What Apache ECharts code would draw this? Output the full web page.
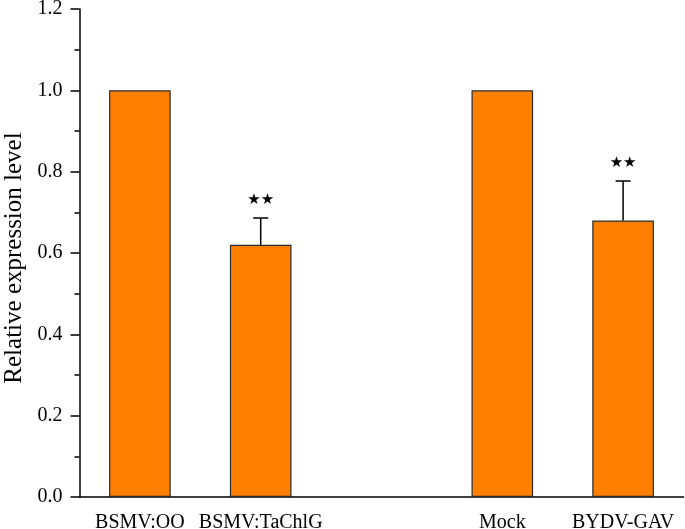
<!DOCTYPE html>
<html>
<head>
<meta charset="utf-8">
<script src="https://cdn.jsdelivr.net/npm/echarts@6/dist/echarts.min.js"></script>
<style>html,body{margin:0;padding:0;background:#fff}#c{width:685px;height:529px}</style>
</head>
<body>
<div id="c"></div>
<script>
const categories = ['BSMV:OO', 'BSMV:TaChlG', '', 'Mock', 'BYDV-GAV'];
const values = [1.0, 0.62, null, 1.0, 0.68];
const errors = [0, 0.066, null, 0, 0.097];
const marks = ['', '★★', '', '', '★★'];
const yTicks = [0, 0.2, 0.4, 0.6, 0.8, 1.0, 1.2];

const chart = echarts.init(document.getElementById('c'), null, {renderer: 'canvas'});
const font = 'Liberation Serif';
const errData = [];
categories.forEach((c, i) => {
  if (values[i] != null && errors[i]) errData.push([i, values[i], errors[i], marks[i]]);
});
chart.setOption({
  animation: false,
  backgroundColor: '#fff',
  grid: {left: 79.5, right: 1.5, top: 9, bottom: 32, containLabel: false, outerBoundsMode: 'none'},
  xAxis: [{
    type: 'category', data: categories, boundaryGap: true,
    axisLine: {lineStyle: {color: '#000', width: 1.5}},
    axisTick: {alignWithLabel: true, length: 7, lineStyle: {color: '#000', width: 1.5}},
    axisLabel: {color: '#000', fontFamily: font, fontSize: 20, margin: 16, interval: 0},
    splitLine: {show: false}
  }, {
    type: 'category', data: categories, boundaryGap: true, position: 'bottom',
    axisLine: {show: false},
    axisTick: {length: 4, lineStyle: {color: '#000', width: 1.5}},
    axisLabel: {show: false},
    splitLine: {show: false}
  }],
  yAxis: {
    type: 'value', min: yTicks[0], max: yTicks[yTicks.length - 1], interval: 0.2,
    name: 'Relative expression level', nameLocation: 'middle', nameGap: 51,
    nameTextStyle: {color: '#000', fontFamily: font, fontSize: 25, padding: [0, 10, 0, 0]},
    axisLine: {show: true, lineStyle: {color: '#000', width: 1.5}},
    axisTick: {show: true, length: 9, lineStyle: {color: '#000', width: 1.5}},
    minorTick: {show: true, splitNumber: 2, length: 5, lineStyle: {color: '#000', width: 1.5}},
    axisLabel: {color: '#000', fontFamily: font, fontSize: 20, margin: 17,
      formatter: v => v.toFixed(1)},
    splitLine: {show: false}
  },
  series: [{
    type: 'bar', data: values, xAxisIndex: 0, barWidth: '51%',
    itemStyle: {color: '#FF8000', borderColor: '#2a2a2a', borderWidth: 1.2}
  }, {
    type: 'custom', xAxisIndex: 0, data: errData, z: 5,
    renderItem: function (params, api) {
      const x = api.value(0), v = api.value(1), e = api.value(2);
      const base = api.coord([x, v]);
      const top = api.coord([x, v + e]);
      const half = 7.5;
      const st = {stroke: '#000', lineWidth: 1.5};
      return {type: 'group', children: [
        {type: 'line', shape: {x1: base[0], y1: base[1], x2: top[0], y2: top[1]}, style: st},
        {type: 'line', shape: {x1: top[0] - half, y1: top[1], x2: top[0] + half, y2: top[1]}, style: st},
        {type: 'text', style: {text: marks[x], x: top[0], y: top[1] - 10, align: 'center', verticalAlign: 'bottom',
          fill: '#000', font: '15px "DejaVu Sans"'}}
      ]};
    }
  }]
});
</script>
</body>
</html>
